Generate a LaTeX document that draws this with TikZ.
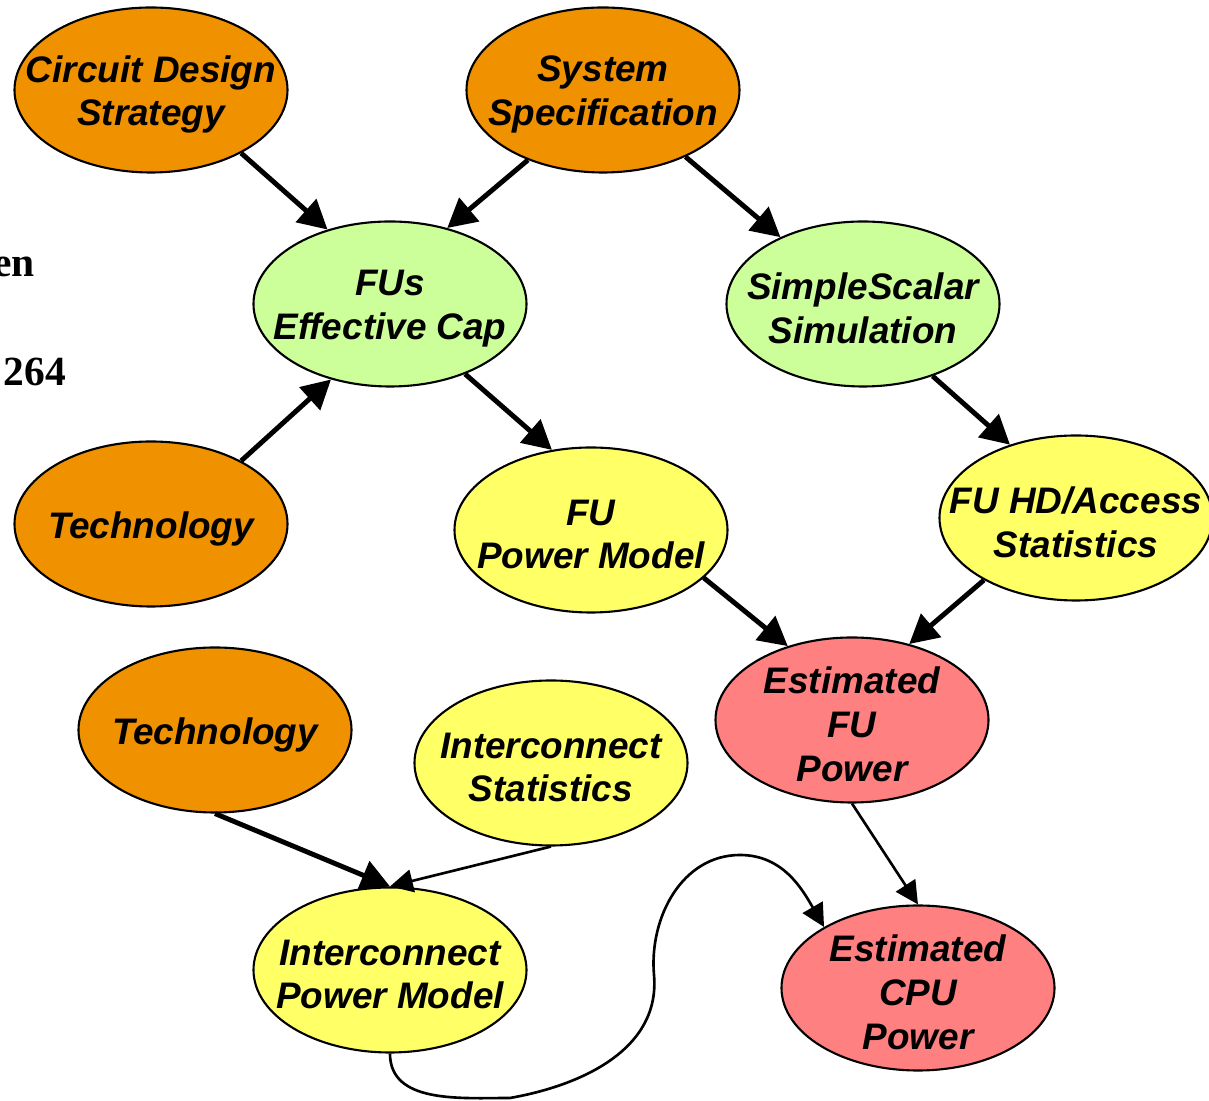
\documentclass[tikz,border=0pt]{standalone}
\usepackage{fontspec}
\setmainfont{Liberation Sans}
\newfontfamily\serifbold{Liberation Serif}
\usetikzlibrary{shapes.geometric}
\usetikzlibrary{arrows.meta}
\definecolor{orangeC}{RGB}{240,145,0}
\definecolor{greenC}{RGB}{204,255,153}
\definecolor{yellowC}{RGB}{255,255,102}
\definecolor{pinkC}{RGB}{255,128,128}
\tikzset{%
  myedge/.style={-{Triangle[length=8.2pt,width=8.6pt]}, line width=1.4pt},
  thinedge/.style={-{Triangle[length=6.5pt,width=6.5pt]}, line width=0.75pt},
  mynode/.style={ellipse, draw=black, line width=0.6pt, minimum width=2.73cm, minimum height=1.65cm, inner sep=0pt},
  mytext/.style={align=center, inner sep=0pt, yshift=-0.045cm, font=\fontsize{10.5}{12.5}\selectfont\bfseries\itshape}
}

\begin{document}
\begin{tikzpicture}
\useasboundingbox (0,0) rectangle (12.09,-11.01);

% cut text on the left
\node [anchor=base east, inner sep=0pt, font=\serifbold\fontsize{11.8}{14}\selectfont\bfseries] (txtA) at (0.355,-2.77) {en};
\node [anchor=base west, inner sep=0pt, font=\serifbold\fontsize{11.8}{14}\selectfont\bfseries] (txtB) at (0.03,-3.86) {264};

\node (cds) [mynode, fill=orangeC, label={[mytext]center:{Circuit Design\\Strategy}}] at (1.51,-0.90) {};
\node (sys) [mynode, fill=orangeC, label={[mytext]center:{System\\Specification}}] at (6.03,-0.90) {};
\node (fus) [mynode, fill=greenC, label={[mytext]center:{FUs\\Effective Cap}}] at (3.90,-3.04) {};
\node (ss) [mynode, fill=greenC, label={[mytext]center:{SimpleScalar\\Simulation}}] at (8.63,-3.04) {};
\node (techA) [mynode, fill=orangeC, label={[mytext]center:{Technology}}] at (1.51,-5.24) {};
\node (fupm) [mynode, fill=yellowC, label={[mytext]center:{FU\\Power Model}}] at (5.91,-5.30) {};
\node (fhd) [mynode, fill=yellowC, label={[mytext]center:{FU HD/Access\\Statistics}}] at (10.76,-5.18) {};
\node (efu) [mynode, fill=pinkC, label={[mytext]center:{Estimated\\FU\\Power}}] at (8.52,-7.20) {};
\node (techB) [mynode, fill=orangeC, label={[mytext]center:{Technology}}] at (2.15,-7.30) {};
\node (istat) [mynode, fill=yellowC, label={[mytext]center:{Interconnect\\Statistics}}] at (5.51,-7.63) {};
\node (ipm) [mynode, fill=yellowC, label={[mytext]center:{Interconnect\\Power Model}}] at (3.90,-9.70) {};
\node (ecpu) [mynode, fill=pinkC, label={[mytext]center:{Estimated\\CPU\\Power}}] at (9.18,-9.88) {};

\draw [myedge] (cds.-35) -- (fus.130);
\draw [myedge] (sys.223) -- (fus.53);
\draw [myedge] (sys.-39) -- (ss.141);
\draw [myedge] (techA.35) -- (fus.232);
\draw [myedge] (fus.-43) -- (fupm.116);
\draw [myedge] (ss.-46) -- (fhd.132);
\draw [myedge] (fupm.-23) -- (efu.131);
\draw [myedge] (fhd.214) -- (efu.53);
\draw [myedge] (techB.south) -- (ipm.north);
\draw [thinedge] (istat.south) -- (ipm.north);
\draw [thinedge] (efu.south) -- (ecpu.north);

% curve
\coordinate (w1) at (5.10,-10.98);
\coordinate (w2) at (6.54,-9.75);
\coordinate (w3) at (7.40,-8.55);
\draw [thinedge] (ipm.south) to[out=-90,in=180] (w1) to[out=10,in=-85] (w2) to[out=95,in=180] (w3) to[out=0,in=120] (ecpu.147);
\end{tikzpicture}
\end{document}
